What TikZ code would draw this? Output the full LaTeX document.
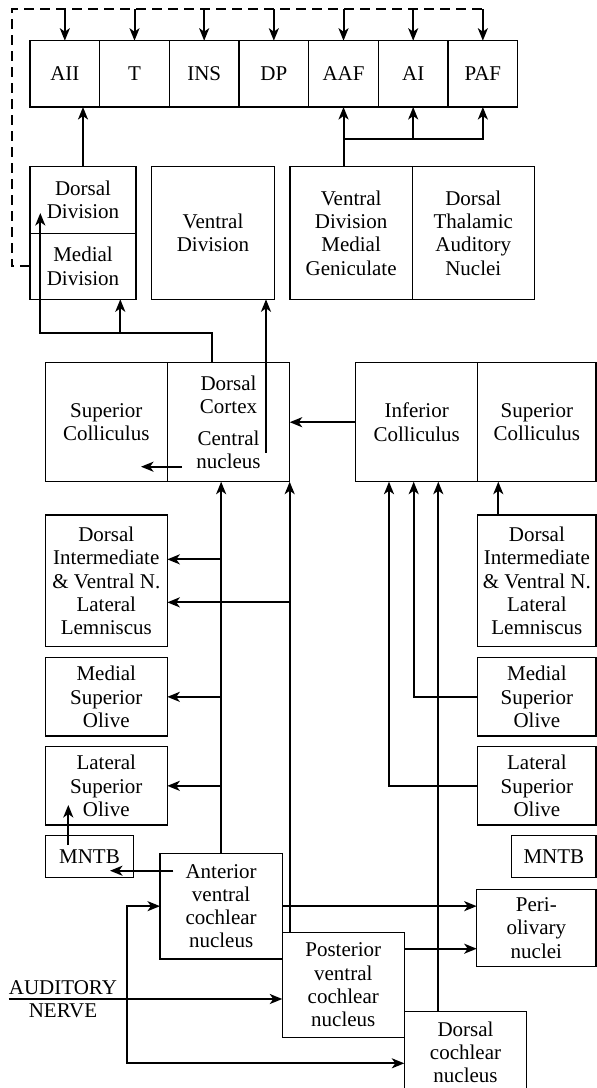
\documentclass[tikz,border=0pt]{standalone}
\usepackage{fontspec}
\setmainfont{Liberation Serif}
\usetikzlibrary{arrows.meta,calc}

\begin{document}
\begin{tikzpicture}[x=1pt,y=-1pt,
  box/.style={draw, line width=1.1pt, anchor=north west, inner sep=1pt, outer sep=0pt,
    align=center, font=\fontsize{21}{23.3}\selectfont},
  wire/.style={line width=2pt, -{Stealth[length=12.5pt,width=10pt,inset=3.5pt]}},
  plain/.style={line width=2pt}]

\useasboundingbox (0,0) rectangle (597,1088);

\foreach \n/\t [count=\i from 0] in {aii/AII,tx/T,ins/INS,dp/DP,aaf/AAF,ai/AI,paf/PAF}
  \node[box, minimum width=69.67pt, minimum height=66.3pt] (\n) at (30+69.67*\i,40.7) {\t};

\node[box, minimum width=106pt, minimum height=66.6pt] (ddiv) at (30,166.7) {Dorsal\\Division};
\node[box, minimum width=106pt, minimum height=66pt] (mdiv) at (30,233.3) {Medial\\Division};
\node[box, minimum width=122.6pt, minimum height=132.6pt] (vdiv) at (151.7,166.7) {Ventral\\Division};
\node[box, minimum width=122.3pt, minimum height=132.6pt] (vdmg) at (290,166.7) {Ventral\\Division\\Medial\\Geniculate};
\node[box, minimum width=122pt, minimum height=132.6pt] (dtan) at (412.3,166.7) {Dorsal\\Thalamic\\Auditory\\Nuclei};

\node[box, minimum width=122pt, minimum height=119pt] (scl) at (45.3,362.7) {Superior\\Colliculus};
\node[box, minimum width=122.4pt, minimum height=119pt] (cn) at (167.3,362.7) {Dorsal\\Cortex\\[8pt]Central\\nucleus};
\node[box, minimum width=122pt, minimum height=119pt] (ic) at (355.7,362.7) {Inferior\\Colliculus};
\node[box, minimum width=118.3pt, minimum height=119pt] (scr) at (477.7,362.7) {Superior\\Colliculus};

\node[box, minimum width=122pt, minimum height=131.7pt] (dlll) at (45.3,515) {Dorsal\\Intermediate\\\& Ventral N.\\Lateral\\Lemniscus};
\node[box, minimum width=122pt, minimum height=78.3pt] (msol) at (45.3,657.7) {Medial\\Superior\\Olive};
\node[box, minimum width=122pt, minimum height=78.3pt] (lsol) at (45.3,746.7) {Lateral\\Superior\\Olive};
\node[box, minimum width=88.4pt, minimum height=42pt] (mntbl) at (45.3,835.7) {MNTB};

\node[box, minimum width=118.3pt, minimum height=131.7pt] (dllr) at (477.7,515) {Dorsal\\Intermediate\\\& Ventral N.\\Lateral\\Lemniscus};
\node[box, minimum width=118.3pt, minimum height=78.3pt] (msor) at (477.7,657.7) {Medial\\Superior\\Olive};
\node[box, minimum width=118.3pt, minimum height=78.3pt] (lsor) at (477.7,746.7) {Lateral\\Superior\\Olive};
\node[box, minimum width=84.3pt, minimum height=42pt] (mntbr) at (511.7,835.7) {MNTB};
\node[box, minimum width=119.3pt, minimum height=77.4pt] (peri) at (476.7,889.3) {Peri-\\olivary\\nuclei};

\node[box, minimum width=122.3pt, minimum height=105.7pt] (avcn) at (160,853.3) {Anterior\\ventral\\cochlear\\nucleus};
\node[box, minimum width=122pt, minimum height=105.4pt] (pvcn) at (282.3,932.3) {Posterior\\ventral\\cochlear\\nucleus};
\node[box, minimum width=122.4pt, minimum height=82pt] (dcn) at (404.3,1011.3) {Dorsal\\cochlear\\nucleus};
\node[anchor=west, inner sep=0pt, align=center, font=\fontsize{21}{23.3}\selectfont] (nerve) at (8.7,999) {AUDITORY\\NERVE};

\coordinate (fbk) at (11.7,9.3);
\draw[plain, dash pattern=on 10pt off 6pt] (mdiv.west) -| (fbk) -- (fbk -| paf.north);
\foreach \n in {aii,tx,ins,dp,aaf,ai,paf}
  \draw[wire] (fbk -| \n.north) -- (\n.north);

\draw[wire] (ddiv.north) -- (ddiv.north |- aii.south);
\coordinate (mgb) at ($(aaf.south)+(0,32.3)$);
\draw[plain] (mgb |- vdmg.north) -- (mgb);
\draw[wire] (mgb) -- (aaf.south);
\draw[wire] (mgb) -| (ai.south);
\draw[wire] (mgb) -| (paf.south);

\coordinate (cnout) at ($(cn.north west)+(45,0)$);
\coordinate (tbend) at ($(cnout)+(-92,-30)$);
\draw[wire] (cnout) |- (tbend) -| ($(tbend)+(-80,-119.7)$);
\draw[wire] (tbend) -- (tbend |- mdiv.south);
\coordinate (cnup) at ($(cn.north west)+(98.7,90)$);
\draw[wire] (cnup) -- (cnup |- vdiv.south);
\draw[wire] ($(cn.south west)+(14.7,-15)$) -- ++(-41,0);
\draw[wire] (ic.west) -- (ic.west -| cn.east);

\coordinate (dlla) at ([yshift=21.5pt]dlll.east);
\coordinate (dllb) at ([yshift=-21.5pt]dlll.east);
\draw[wire] (avcn.north) -- (avcn.north |- cn.south);
\draw[wire] (dlla -| avcn.north) -- (dlla);
\draw[wire] (msol.east -| avcn.north) -- (msol.east);
\draw[wire] (lsol.east -| avcn.north) -- (lsol.east);
\draw[wire] (cn.south east |- pvcn.north) -- (cn.south east);
\draw[wire] (dllb -| cn.south east) -- (dllb);

\coordinate (busc) at ($(ic.south)+(-27.7,0)$);
\coordinate (busd) at ($(ic.south)+(-3,0)$);
\coordinate (buse) at ($(ic.south)+(21.6,0)$);
\draw[wire] (lsor.west) -| (busc);
\draw[wire] (msor.west) -| (busd);
\draw[wire] (buse |- dcn.north) -- (buse);
\draw[wire] ([xshift=20.6pt]dllr.north west) -- ([xshift=20.6pt]scr.south west);

\draw[wire] ([shift={(13.3,17.4)}]avcn.north west) -- ++(-63.3,0);
\draw[wire] ([shift={(23,9.3)}]mntbl.north west) -- ++(0,-40);
\draw[wire] (avcn.east) -- (avcn.east -| peri.west);
\draw[wire] ([yshift=36.3pt]pvcn.east) -- ([yshift=36.3pt]pvcn.east -| peri.west);

\coordinate (split) at ($(nerve.west)+(118.3,0)$);
\draw[wire] (nerve.west) -- (nerve.west -| pvcn.west);
\draw[wire] (split) |- (avcn.west);
\draw[wire] (split) |- ([yshift=-11pt]dcn.west);

\end{tikzpicture}
\end{document}
